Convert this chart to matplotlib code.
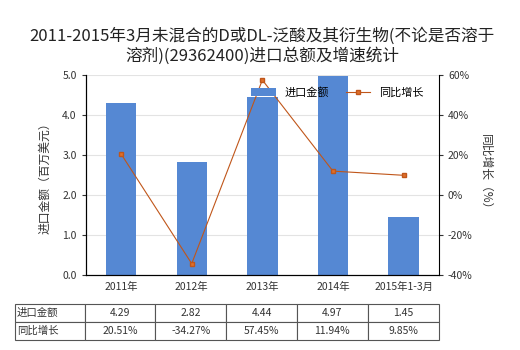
import matplotlib.pyplot as plt

plt.rcParams['font.family'] = ['Noto Sans CJK SC', 'DejaVu Sans']

# данные с графика
categories = ['2011年', '2012年', '2013年', '2014年', '2015年1-3月']
import_value = [4.29, 2.82, 4.44, 4.97, 1.45]
growth = [20.51, -34.27, 57.45, 11.94, 9.85]
value_labels = ['4.29', '2.82', '4.44', '4.97', '1.45']
growth_labels = ['20.51%', '-34.27%', '57.45%', '11.94%', '9.85%']

bar_color = '#5588D3'
line_color = '#C0561A'
text_color = '#333333'

fig = plt.figure(figsize=(5.2, 3.5), dpi=100)
ax = fig.add_axes([0.165, 0.214, 0.679, 0.572])
x = range(len(categories))

bars = ax.bar(x, import_value, width=0.43, color=bar_color, label='进口金额', zorder=2)
ax.set_ylim(0, 5)
ax.set_xlim(-0.5, len(categories) - 0.5)
ax.set_yticks([0, 1, 2, 3, 4, 5])
ax.set_yticklabels(['0.0', '1.0', '2.0', '3.0', '4.0', '5.0'])
ax.set_xticks(list(x))
ax.set_xticklabels(categories)
ax.grid(axis='y', color='#E3E3E3', linewidth=0.8, zorder=0)
ax.tick_params(labelsize=7.5, colors=text_color, length=3)
ax.tick_params(axis='x', length=0, pad=5)
ax.set_ylabel('进口金额（百万美元）', fontsize=8.5, color=text_color, labelpad=8)
for s in ['top', 'right']:
    ax.spines[s].set_visible(False)

ax2 = ax.twinx()
ax2.plot(list(x), growth, color=line_color, linewidth=0.8, marker='s', markersize=3.5,
         markerfacecolor='#E0702A', markeredgecolor=line_color, label='同比增长', zorder=3)
ax2.set_ylim(-40, 60)
ax2.set_yticks([-40, -20, 0, 20, 40, 60])
ax2.set_yticklabels(['-40%', '-20%', '0%', '20%', '40%', '60%'])
ax2.tick_params(labelsize=7.5, colors=text_color, length=3)
ax2.set_ylabel('同比增长（%）', fontsize=8.5, color=text_color, rotation=270, labelpad=14)
ax2.spines['top'].set_visible(False)

h1, l1 = ax.get_legend_handles_labels()
h2, l2 = ax2.get_legend_handles_labels()
ax2.legend(h1 + h2, l1 + l2, loc='upper right', bbox_to_anchor=(0.985, 0.99), ncol=2,
           frameon=False, fontsize=8, handlelength=2.2, columnspacing=1.5)

ax.set_title('2011-2015年3月未混合的D或DL-泛酸及其衍生物(不论是否溶于\n溶剂)(29362400)进口总额及增速统计',
             fontsize=12, color='#222222', pad=10, linespacing=1.15)

# таблица под графиком
cells = [['进口金额'] + value_labels, ['同比增长'] + growth_labels]
tbl = ax.table(cellText=cells, cellLoc='center',
               colWidths=[70 / 353] + [71 / 353] * 5,
               bbox=[-0.201, -0.325, 1.2, 0.18])
tbl.auto_set_font_size(False)
tbl.set_fontsize(7.5)
for (r, c), cell in tbl.get_celld().items():
    cell.set_edgecolor('#555555')
    cell.set_linewidth(0.8)
    cell.get_text().set_color(text_color)
    if c == 0:
        cell.get_text().set_ha('left')
        cell._loc = 'left'
        cell.PAD = 0.03

fig.savefig('out.png', dpi=100)
